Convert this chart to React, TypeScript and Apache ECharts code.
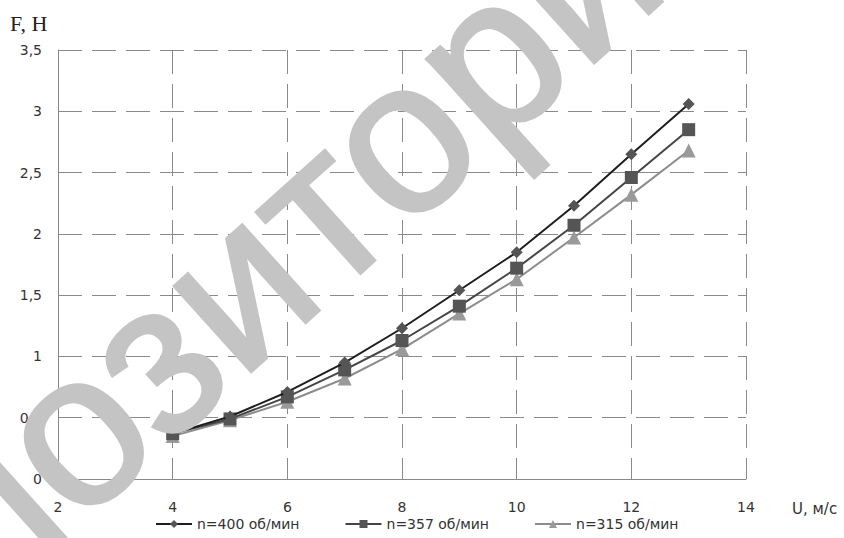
import React, { useEffect, useRef } from "react";
import * as echarts from "echarts";

const xValues = [4, 5, 6, 7, 8, 9, 10, 11, 12, 13];
const f400 = [0.37, 0.51, 0.71, 0.95, 1.23, 1.54, 1.85, 2.23, 2.65, 3.06];
const f357 = [0.37, 0.49, 0.67, 0.89, 1.13, 1.41, 1.72, 2.07, 2.46, 2.85];
const f315 = [0.35, 0.48, 0.63, 0.82, 1.06, 1.35, 1.63, 1.97, 2.32, 2.68];
const seriesNames = ["n=400 об/мин", "n=357 об/мин", "n=315 об/мин"];
const xTitle = "U, м/с";
const yTitle = "F, H";
const watermarkHead = "реп";
const watermarkTail = "озиторий";

const pairs = (ys: number[]) => xValues.map((x, i) => [x, ys[i]]);
const fmt = (v: number) => String(v).replace(".", ",");

export default function App() {
  const ref = useRef<HTMLDivElement>(null);
  useEffect(() => {
    const chart = echarts.init(ref.current!, null, { renderer: "svg" });
    const labelFont = { fontFamily: "DejaVu Sans", fontSize: 14, color: "#333" };
    const ang = (42 * Math.PI) / 180;
    const dash = { color: "#8a8a8a", type: [24, 10], width: 1 };
    const wmStyle = {
      fontFamily: "Liberation Sans",
      fontSize: 218,
      fill: "#c4c4c4",
      stroke: "#c4c4c4",
      lineWidth: 3,
      textVerticalAlign: "middle",
    };
    const wmX = 27;
    const wmY = 472;
    chart.setOption({
      animation: false,
      backgroundColor: "#fff",
      grid: { left: 58, right: 98, top: 50, bottom: 59 },
      xAxis: {
        type: "value",
        min: 2,
        max: 14,
        interval: 2,
        axisLine: { lineStyle: { color: "#888", width: 1 } },
        axisTick: { show: false },
        axisLabel: { ...labelFont, margin: 21, formatter: fmt },
        splitLine: { show: true, lineStyle: dash },
      },
      yAxis: {
        type: "value",
        min: 0,
        max: 3.5,
        interval: 0.5,
        axisLine: { show: true, lineStyle: { color: "#888", width: 1 } },
        axisTick: { show: false },
        axisLabel: { ...labelFont, margin: 16, formatter: fmt },
        splitLine: { show: true, lineStyle: dash },
      },
      legend: {
        bottom: 2,
        left: 150,
        itemWidth: 36,
        itemHeight: 10,
        itemGap: 45,
        textStyle: { fontFamily: "DejaVu Sans", fontSize: 14, color: "#333" },
        data: seriesNames,
      },
      series: [
        {
          name: seriesNames[0],
          type: "line",
          data: pairs(f400),
          symbol: "diamond",
          symbolSize: 12,
          lineStyle: { color: "#1e1e1e", width: 2 },
          itemStyle: { color: "#555" },
          z: 4,
        },
        {
          name: seriesNames[1],
          type: "line",
          data: pairs(f357),
          symbol: "rect",
          symbolSize: 13,
          lineStyle: { color: "#454545", width: 2 },
          itemStyle: { color: "#555" },
          z: 3,
        },
        {
          name: seriesNames[2],
          type: "line",
          data: pairs(f315),
          symbol: "triangle",
          symbolSize: 14,
          lineStyle: { color: "#8c8c8c", width: 2 },
          itemStyle: { color: "#9a9a9a" },
          z: 2,
        },
      ],
      graphic: [
        {
          type: "text",
          left: 10,
          top: 12,
          style: { text: yTitle, fontFamily: "Liberation Serif", fontSize: 22, fill: "#222" },
        },
        {
          type: "text",
          left: 792,
          top: 501,
          style: { text: xTitle, fontFamily: "DejaVu Sans", fontSize: 15, fill: "#333" },
        },
        {
          type: "text",
          x: wmX,
          y: wmY,
          rotation: ang,
          z: 100,
          silent: true,
          style: { ...wmStyle, text: watermarkTail, textAlign: "left" },
        },
        {
          type: "text",
          x: wmX,
          y: wmY,
          rotation: ang,
          z: 100,
          silent: true,
          style: { ...wmStyle, text: watermarkHead, textAlign: "right" },
        },
      ],
    });
    return () => chart.dispose();
  }, []);
  return (
    <div
      ref={ref}
      style={{ position: "absolute", left: 0, top: 0, width: 844, height: 538 }}
    />
  );
}
